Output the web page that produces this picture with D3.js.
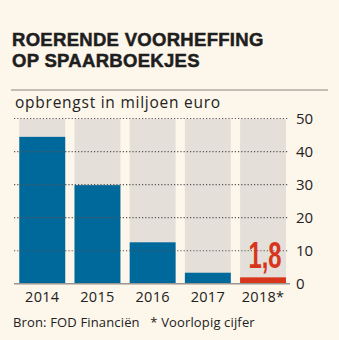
<!DOCTYPE html>
<html>
<head>
<meta charset="utf-8">
<script src="https://cdn.jsdelivr.net/npm/d3@7"></script>
<style>
  body { margin: 0; background: #fdf6ea; }
  svg { display: block; }
</style>
</head>
<body>
<script>
var years = ["2014", "2015", "2016", "2017", "2018*"];
var values = [44.3, 29.7, 12.4, 3.2, 1.8];
var yTicks = [0, 10, 20, 30, 40, 50];
var highlight = "2018*";
var highlightLabel = "1,8";

var W = 339, H = 340;

var svg = d3.select("body").append("svg")
  .attr("width", W)
  .attr("height", H);

svg.append("rect").attr("width", W).attr("height", H).attr("fill", "#fdf6ea");

// title
var titleLines = ["ROERENDE VOORHEFFING", "OP SPAARBOEKJES"];
svg.append("g").selectAll("text")
  .data(titleLines)
  .enter().append("text")
  .attr("x", 12)
  .attr("y", function(d, i) { return 46 + i * 21; })
  .style("font-family", "'Liberation Sans', Arial, sans-serif")
  .style("font-weight", "bold")
  .style("font-size", "18.5px")
  .style("letter-spacing", "0.3px")
  .style("stroke", "#1e1e1e")
  .style("stroke-width", "0.5px")
  .attr("fill", "#1e1e1e")
  .text(function(d) { return d; });

svg.append("line")
  .attr("x1", 11).attr("x2", 328)
  .attr("y1", 90).attr("y2", 90)
  .attr("stroke", "#8a8580").attr("stroke-width", 1);

svg.append("text")
  .attr("x", 15).attr("y", 108)
  .style("font-family", "'Open Sans', sans-serif")
  .style("font-size", "15.5px")
  .style("letter-spacing", "0.75px")
  .attr("fill", "#222")
  .text("opbrengst in miljoen euro");

var x = d3.scaleBand()
  .domain(years)
  .range([19.3, 286])
  .paddingInner(0.168)
  .paddingOuter(0);

var y = d3.scaleLinear()
  .domain([0, 50])
  .range([283.3, 118]);

// background bars
svg.append("g").selectAll("rect")
  .data(years)
  .enter().append("rect")
  .attr("x", function(d) { return x(d); })
  .attr("width", x.bandwidth())
  .attr("y", y(50) + 1)
  .attr("height", y(0) - y(50) - 1)
  .attr("fill", "#e4dfd9");

// value bars
svg.append("g").selectAll("rect")
  .data(values)
  .enter().append("rect")
  .attr("x", function(d, i) { return x(years[i]); })
  .attr("width", x.bandwidth())
  .attr("y", function(d) { return y(d); })
  .attr("height", function(d) { return y(0) - y(d); })
  .attr("fill", function(d, i) { return years[i] == highlight ? "#d8361c" : "#00699b"; });

// gridlines + y labels
var yAxis = d3.axisRight(y)
  .tickValues(yTicks)
  .tickSize(274)
  .tickFormat(d3.format("d"));

var gy = svg.append("g")
  .attr("transform", "translate(14,0)")
  .call(yAxis);
gy.select(".domain").remove();
gy.selectAll(".tick line")
  .attr("stroke", "#555")
  .attr("stroke-width", 1.2)
  .attr("stroke-dasharray", "1.2,2");
gy.selectAll(".tick").filter(function(d) { return d === 0; }).select("line")
  .attr("stroke", "#9a9590")
  .attr("stroke-width", 1.5)
  .attr("stroke-dasharray", null)
  .attr("x2", 276);
gy.selectAll(".tick text")
  .attr("x", 282)
  .attr("dy", "0.36em")
  .attr("fill", "#222")
  .style("font-family", "'Open Sans', sans-serif")
  .style("font-size", "15px");

// x labels
var xAxis = d3.axisBottom(x).tickSize(0).tickPadding(0);
var gx = svg.append("g")
  .attr("transform", "translate(0,302)")
  .call(xAxis);
gx.select(".domain").remove();
gx.selectAll(".tick text")
  .attr("dy", 0)
  .attr("fill", "#222")
  .style("font-family", "'Open Sans', sans-serif")
  .style("font-size", "14.5px")
  .style("letter-spacing", "0.3px");

// highlight label (condensed)
var hx = x(highlight) + x.bandwidth() / 2 + 2;
var hy = y(values[4]) - 9;
svg.append("text")
  .attr("transform", "translate(" + hx + "," + hy + ") scale(0.66,1)")
  .attr("text-anchor", "middle")
  .style("font-family", "'Liberation Sans', Arial, sans-serif")
  .style("font-weight", "bold")
  .style("font-size", "36px")
  .attr("fill", "#d8361c")
  .text(highlightLabel);

// source
svg.append("text")
  .attr("x", 13).attr("y", 327)
  .style("font-family", "'Open Sans', sans-serif")
  .style("font-size", "13px")
  .style("letter-spacing", "0.15px")
  .attr("fill", "#222")
  .attr("xml:space", "preserve")
  .text("Bron: FOD Financiën   * Voorlopig cijfer");
</script>
</body>
</html>
